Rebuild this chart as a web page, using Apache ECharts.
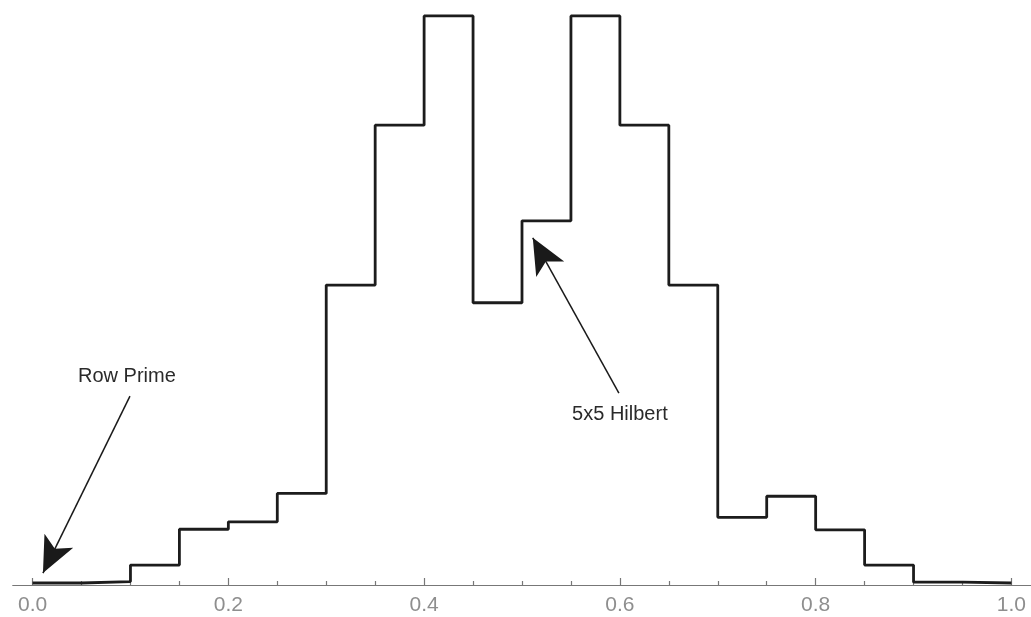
<!DOCTYPE html>
<html>
<head>
<meta charset="utf-8">
<script src="https://cdn.jsdelivr.net/npm/echarts@6/dist/echarts.min.js"></script>
<style>html,body{margin:0;padding:0;background:#fff;}#c{width:1031px;height:617px;}</style>
</head>
<body>
<div id="c"></div>
<script>
// Histogram bins (left edges) and heights (relative frequency, peak = 100)
const binEdges = [0.00,0.05,0.10,0.15,0.20,0.25,0.30,0.35,0.40,0.45,0.50,0.55,0.60,0.65,0.70,0.75,0.80,0.85,0.90,0.95,1.00];
const binValues = [0.35,0.6,3.5,9.8,11.1,16.1,52.7,80.8,100,49.6,64.0,100,80.8,52.7,11.9,15.6,9.7,3.5,0.5,0.35];
const majorTicks = [0.0,0.2,0.4,0.6,0.8,1.0];
const minorTicks = [0.05,0.1,0.15,0.25,0.3,0.35,0.45,0.5,0.55,0.65,0.7,0.75,0.85,0.9,0.95];
// Annotations: label position, arrow start and arrow tip in data coords
const annRowPrime = {text:'Row Prime', label:[0.0964,36.7], from:[0.0995,33.2], to:[0.0106,2.1]};
const annHilbert = {text:'5x5 Hilbert', label:[0.600,29.9], from:[0.599,33.7], to:[0.511,61.0]};

const stepData = binEdges.map((e,i)=>[e, binValues[Math.min(i, binValues.length-1)]]);

const chart = echarts.init(document.getElementById('c'), null, {renderer:'canvas'});
const xMin = -0.02, xMax = 1.02;
const baseX = {
  type:'value', min:xMin, max:xMax, position:'bottom',
  splitLine:{show:false},
  axisLine:{show:true, lineStyle:{color:'#777', width:1.2}}
};
chart.setOption({
  animation:false,
  backgroundColor:'#fff',
  grid:{left:13, right:0, top:0, bottom:32},
  xAxis:[
    Object.assign({}, baseX, {
      axisTick:{show:true, inside:true, length:7, customValues:majorTicks, lineStyle:{color:'#777', width:1.2}},
      axisLabel:{show:true, customValues:majorTicks, margin:10, color:'#8e8e8e', fontSize:21,
        fontFamily:'Liberation Sans, Arial, sans-serif', formatter:v=>Number(v).toFixed(1)}
    }),
    Object.assign({}, baseX, {
      axisTick:{show:true, inside:true, length:4, customValues:minorTicks, lineStyle:{color:'#777', width:1.2}},
      axisLabel:{show:false}
    })
  ],
  yAxis:{type:'value', min:0, max:102.8, show:false},
  series:[{
    type:'line', step:'end', xAxisIndex:0, data:stepData, symbol:'none',
    lineStyle:{color:'#1c1c1c', width:2.8},
    markLine:{
      silent:true, symbol:['none','arrow'], symbolSize:[24,36],
      lineStyle:{color:'#1a1a1a', width:1.5, type:'solid'},
      itemStyle:{color:'#000'},
      label:{show:false},
      data:[
        [{coord:annRowPrime.from},{coord:annRowPrime.to}],
        [{coord:annHilbert.from},{coord:annHilbert.to}]
      ]
    },
    markPoint:{
      silent:true, symbol:'circle', symbolSize:0,
      label:{show:true, position:'inside', color:'#2a2a2a', fontSize:20,
        fontFamily:'Liberation Sans, Arial, sans-serif', formatter:'{b}'},
      data:[
        {name:annRowPrime.text, coord:annRowPrime.label},
        {name:annHilbert.text, coord:annHilbert.label}
      ]
    }
  }]
});
</script>
</body>
</html>
